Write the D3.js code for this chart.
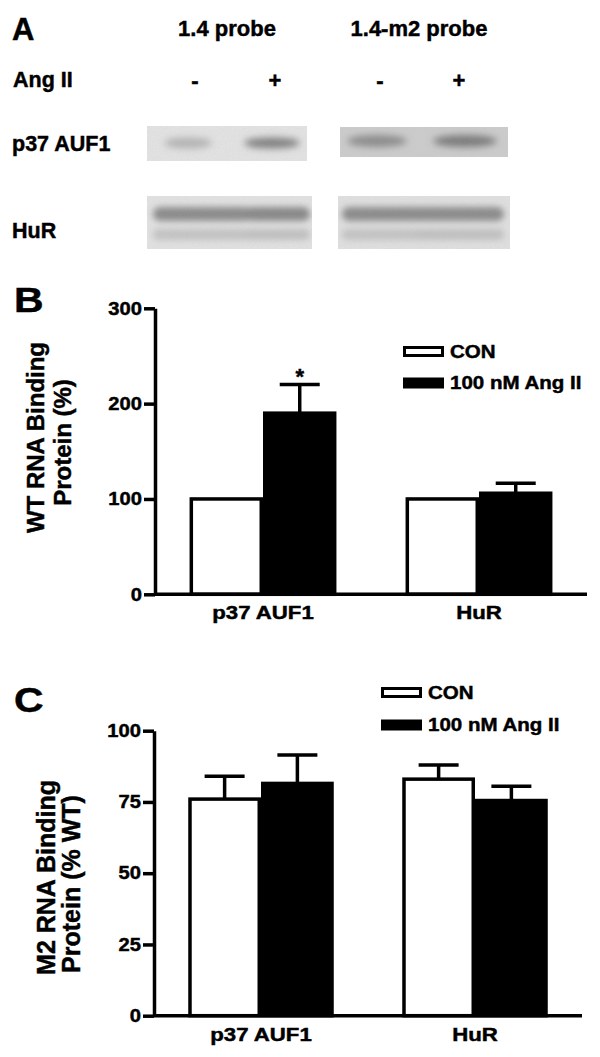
<!DOCTYPE html>
<html><head><meta charset="utf-8">
<script src="https://cdn.jsdelivr.net/npm/d3@7/dist/d3.min.js"></script>
<style>
html,body{margin:0;padding:0;background:#fff;}
svg{display:block;font-family:"Liberation Sans",Arial,sans-serif;font-weight:bold;}
svg text{stroke:#000;stroke-width:0.45px;}
</style></head>
<body>
<svg id="fig" width="600" height="1057"></svg>
<script>
// ---------- data ----------
const categories = ["p37 AUF1", "HuR"];
const seriesNames = ["CON", "100 nM Ang II"];
// Panel B: WT RNA binding protein (%)
const wtCon = [100, 100];
const wtConErr = [0, 0];
const wtAng = [190, 106];
const wtAngErr = [30, 10.5];
const wtSignificant = [true, false]; // asterisk on Ang II bar
const wtTicks = [0, 100, 200, 300];
// Panel C: M2 RNA binding protein (% WT)
const m2Con = [76, 83];
const m2ConErr = [8, 5];
const m2Ang = [81.5, 75.5];
const m2AngErr = [10, 5];
const m2Ticks = [0, 25, 50, 75, 100];
// Panel A: blot lanes
const probes = ["1.4 probe", "1.4-m2 probe"];
const laneTreat = ["-", "+", "-", "+"];
const p37Band = [0.3, 0.62, 0.55, 0.66];
const hurBand = [0.55, 0.57, 0.55, 0.55];
const hurLowerBand = [0.2, 0.22, 0.2, 0.22];

const svg = d3.select("#fig");

// ---------- Panel A ----------
const defs = svg.append("defs");
function blurFilter(id, sd){
  defs.append("filter").attr("id",id).attr("x","-50%").attr("y","-100%").attr("width","200%").attr("height","300%")
    .append("feGaussianBlur").attr("stdDeviation", sd);
}
blurFilter("blur", 3.6);
blurFilter("blurH", 3.0);
const nf = defs.append("filter").attr("id","noise").attr("x",0).attr("y",0).attr("width","100%").attr("height","100%");
nf.append("feTurbulence").attr("type","fractalNoise").attr("baseFrequency",0.7).attr("numOctaves",2).attr("seed",3).attr("result","t");
nf.append("feColorMatrix").attr("in","t").attr("type","matrix")
  .attr("values","0 0 0 0 0.45  0 0 0 0 0.45  0 0 0 0 0.45  0 0 0 0.22 -0.05").attr("result","n");
nf.append("feComposite").attr("in","n").attr("in2","SourceGraphic").attr("operator","in");

svg.append("text").attr("x",12).attr("y",40).attr("font-size",31).text("A");
const probeX = [227, 419];
svg.selectAll(".probe").data(probes).join("text").attr("class","probe")
  .attr("x",(d,i)=>probeX[i]).attr("y",36).attr("font-size",22).attr("text-anchor","middle").text(d=>d);
svg.append("text").attr("x",13).attr("y",87).attr("font-size",21.5).text("Ang II");
const laneX = d3.scaleOrdinal().domain([0,1,2,3]).range([195, 275, 380, 459]);
svg.selectAll(".treat").data(laneTreat).join("text").attr("class","treat")
  .attr("x",(d,i)=>laneX(i)).attr("y",88).attr("font-size",22).attr("text-anchor","middle").text(d=>d);
svg.append("text").attr("x",12).attr("y",151).attr("font-size",21.5).text("p37 AUF1");
svg.append("text").attr("x",12).attr("y",238).attr("font-size",21.5).text("HuR");

const gray = d3.scaleLinear().domain([0,1]).range(["#e4e4e4","#404040"]);
const p37Boxes = [{x:147,y:126,w:160,h:35,bg:"#e3e3e3"},{x:340,y:127,w:168,h:30,bg:"#cccccc"}];
const hurBoxes = [{x:147,y:196,w:165,h:53,bg:"#e2e2e2"},{x:338,y:196,w:172,h:53,bg:"#e0e0e0"}];
const allBoxes = p37Boxes.concat(hurBoxes);
allBoxes.forEach((b,i)=>{
  defs.append("clipPath").attr("id","clip"+i).append("rect").attr("x",b.x).attr("y",b.y).attr("width",b.w).attr("height",b.h);
  svg.append("rect").attr("x",b.x).attr("y",b.y).attr("width",b.w).attr("height",b.h).attr("fill",b.bg);
});
const p37Cx = [188, 272, 377, 465];
const p37Rx = [24, 28, 30, 32];
svg.append("g").attr("clip-path","url(#clip0)").append("g").attr("filter","url(#blur)").selectAll("ellipse").data(p37Band.slice(0,2)).join("ellipse")
  .attr("cx",(d,i)=>p37Cx[i]).attr("cy",143).attr("rx",(d,i)=>p37Rx[i]).attr("ry",5.5).attr("fill",d=>gray(d));
svg.append("g").attr("clip-path","url(#clip1)").append("g").attr("filter","url(#blur)").selectAll("ellipse").data(p37Band.slice(2)).join("ellipse")
  .attr("cx",(d,i)=>p37Cx[i+2]).attr("cy",141).attr("rx",(d,i)=>p37Rx[i+2]).attr("ry",6).attr("fill",d=>gray(d));
// HuR blots: upper strong band and lower faint band per lane
const hurCx = [203, 278, 392, 460];
const hurRx = [50, 32, 50, 44];
[[0,2],[2,4]].forEach(([a,b],k)=>{
  const gg = svg.append("g").attr("clip-path",`url(#clip${k+2})`).append("g").attr("filter","url(#blurH)");
  gg.selectAll(".up").data(hurBand.slice(a,b)).join("rect").attr("class","up")
    .attr("x",(d,i)=>hurCx[a+i]-hurRx[a+i]).attr("y",207).attr("width",(d,i)=>2*hurRx[a+i]).attr("height",14).attr("rx",7)
    .attr("fill",d=>gray(d));
  gg.selectAll(".lo").data(hurLowerBand.slice(a,b)).join("rect").attr("class","lo")
    .attr("x",(d,i)=>hurCx[a+i]-hurRx[a+i]).attr("y",229).attr("width",(d,i)=>2*hurRx[a+i]).attr("height",11).attr("rx",5)
    .attr("fill",d=>gray(d));
});
allBoxes.forEach(b=>svg.append("rect").attr("x",b.x).attr("y",b.y).attr("width",b.w).attr("height",b.h)
  .attr("fill","#fff").attr("filter","url(#noise)"));

// ---------- bar chart helper ----------
function barPanel(opt){
  const g = svg.append("g");
  const y = d3.scaleLinear().domain([0, opt.max]).range([opt.y0, opt.y1]);
  const x0 = d3.scaleBand().domain(categories).range([opt.xL, opt.xR]).paddingInner(0.32).paddingOuter(0.16);
  const x1 = d3.scaleBand().domain(seriesNames).range([0, x0.bandwidth()]);
  const SW = 3.5;
  const rows = [];
  categories.forEach((c,i)=>{
    rows.push({cat:c, s:seriesNames[0], v:opt.con[i], e:opt.conErr[i], fill:"#fff", sig:false});
    rows.push({cat:c, s:seriesNames[1], v:opt.ang[i], e:opt.angErr[i], fill:"#000", sig:opt.sig?opt.sig[i]:false});
  });
  const eg = g.append("g").attr("stroke","#000").attr("stroke-width",SW);
  rows.filter(d=>d.e>0).forEach(d=>{
    const cx = x0(d.cat)+x1(d.s)+x1.bandwidth()/2;
    eg.append("line").attr("x1",cx).attr("x2",cx).attr("y1",y(d.v)).attr("y2",y(d.v+d.e));
    eg.append("line").attr("x1",cx-20).attr("x2",cx+20).attr("y1",y(d.v+d.e)).attr("y2",y(d.v+d.e));
  });
  g.append("g").selectAll("rect").data(rows).join("rect")
    .attr("x",d=>x0(d.cat)+x1(d.s)+SW/2)
    .attr("y",d=>y(d.v))
    .attr("width",x1.bandwidth()-SW)
    .attr("height",d=>y(0)-y(d.v))
    .attr("fill",d=>d.fill).attr("stroke","#000").attr("stroke-width",SW);
  rows.filter(d=>d.sig).forEach(d=>{
    const cx = x0(d.cat)+x1(d.s)+x1.bandwidth()/2;
    g.append("text").attr("x",cx).attr("y",y(d.v+d.e)-1).attr("text-anchor","middle").attr("font-size",22).text("*");
  });
  const ya = g.append("g").attr("transform",`translate(${opt.xL},0)`)
    .call(d3.axisLeft(y).tickValues(opt.ticks).tickSize(11).tickSizeOuter(0).tickPadding(2));
  ya.select(".domain").attr("stroke","#000").attr("stroke-width",SW);
  ya.selectAll(".tick line").attr("stroke","#000").attr("stroke-width",SW);
  ya.selectAll(".tick text").attr("font-size",18).attr("fill","#000")
    .attr("transform",`scale(1.12,1)`).attr("x",-13/1.12);
  ya.attr("font-family",null).attr("font-size",null);
  const xa = g.append("g").attr("transform",`translate(0,${opt.y0})`)
    .call(d3.axisBottom(x0).tickSize(0).tickSizeOuter(0).tickPadding(12));
  xa.select(".domain").attr("stroke","#000").attr("stroke-width",SW).attr("d",`M${opt.xL},0H${opt.xR}`);
  xa.selectAll(".tick text").attr("font-size",18.5).attr("fill","#000").attr("transform",`scale(1.2,1)`).attr("dy","0.71em");
  xa.attr("font-family",null).attr("font-size",null);
  opt.title.forEach(t=>{
    g.append("text").attr("transform",`translate(${t.x},${t.cy}) rotate(-90)`)
      .attr("text-anchor","middle").attr("font-size",opt.titleSize).text(t.text);
  });
  g.append("text").attr("transform",`translate(14,${opt.letterY}) scale(1.17,1)`).attr("font-size",35).text(opt.letter);
  const lg = g.append("g");
  seriesNames.forEach((s,i)=>{
    const ly = opt.legY[i];
    lg.append("rect").attr("x",opt.legX+1.5).attr("y",ly-5+1.5).attr("width",38).attr("height",8)
      .attr("fill",i===0?"#fff":"#000").attr("stroke","#000").attr("stroke-width",3);
    lg.append("text").attr("transform",`translate(${opt.legX+47},${ly+6.5}) scale(1.14,1)`).attr("font-size",18).text(s);
  });
}

barPanel({
  letter:"B", letterY:312,
  max:300, y0:594.3, y1:308.3, xL:155, xR:587,
  con:wtCon, conErr:wtConErr, ang:wtAng, angErr:wtAngErr, sig:wtSignificant, ticks:wtTicks,
  title:[{text:"WT RNA Binding", x:44, cy:437.5},{text:"Protein (%)", x:71, cy:442.5}], titleSize:24,
  legX:403, legY:[351, 382.5]
});
barPanel({
  letter:"C", letterY:712,
  max:100, y0:1015.7, y1:730.7, xL:154, xR:582,
  con:m2Con, conErr:m2ConErr, ang:m2Ang, angErr:m2AngErr, sig:null, ticks:m2Ticks,
  title:[{text:"M2 RNA Binding", x:55, cy:877.5},{text:"Protein (% WT)", x:80, cy:884}], titleSize:25,
  legX:381, legY:[692, 724.5]
});
</script>
</body></html>
